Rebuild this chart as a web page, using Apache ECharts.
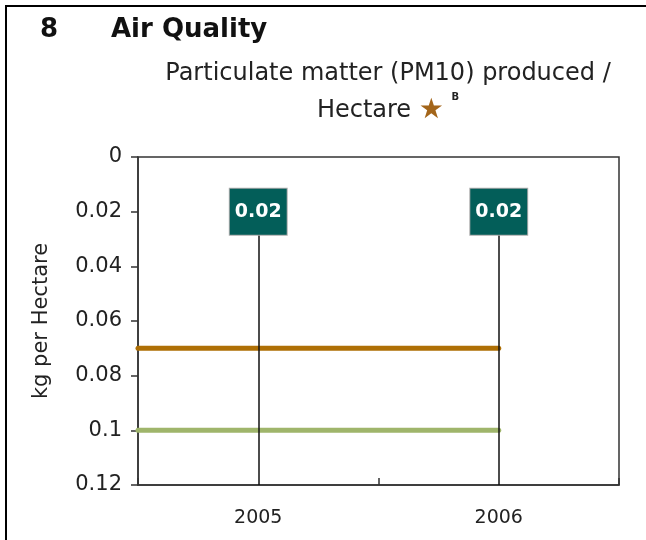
<!DOCTYPE html>
<html>
<head>
<meta charset="utf-8">
<script src="https://cdn.jsdelivr.net/npm/echarts@6/dist/echarts.min.js"></script>
<style>
  html, body { margin: 0; padding: 0; background: #fff; }
  #chart { position: absolute; left: 0; top: 0; width: 646px; height: 540px; }
  #frame { position: absolute; left: 5px; top: 5px; width: 641px; height: 535px;
           border-top: 2px solid #000; border-left: 2px solid #000; pointer-events: none; }
</style>
</head>
<body>
<div id="chart"></div>
<div id="frame"></div>
<script>
// data
var years = ['2005', '2006'];
var pmValues = [0.02, 0.02];
var targetUpper = 0.07;   // brown line
var targetLower = 0.1;    // green line
var yTicks = [0, 0.02, 0.04, 0.06, 0.08, 0.1, 0.12];

var yMin = yTicks[0];
var yMax = yTicks[yTicks.length - 1];
var lastIdx = years.length - 1;
var xStart = -0.5; // left edge of the category band area

var font = 'DejaVu Sans';

var dropLines = years.map(function (y, i) {
  return [{ coord: [i, pmValues[i]] }, { coord: [i, yMax] }];
});

var myChart = echarts.init(document.getElementById('chart'));

var option = {
  animation: false,
  textStyle: { fontFamily: font },
  title: [
    {
      text: '8',
      left: 35,
      top: 12,
      textStyle: { fontFamily: font, fontSize: 26, fontWeight: 'bold', color: '#111' }
    },
    {
      text: 'Air Quality',
      left: 106,
      top: 12,
      textStyle: { fontFamily: font, fontSize: 26, fontWeight: 'bold', color: '#111' }
    },
    {
      text: 'Particulate matter (PM10) produced /\n{h|Hectare} {s|★} {b|B}',
      left: 383,
      top: 50,
      textAlign: 'center',
      textStyle: {
        fontFamily: font,
        fontSize: 24,
        fontWeight: 'normal',
        color: '#222',
        lineHeight: 37,
        rich: {
          h: { fontFamily: font, fontSize: 24, color: '#222', lineHeight: 37 },
          s: { fontFamily: font, fontSize: 28, color: '#A3651A', lineHeight: 37 },
          b: { fontFamily: font, fontSize: 10, fontWeight: 'bold', color: '#222', verticalAlign: 'top', padding: [0, 0, 14, 0] }
        }
      }
    }
  ],
  grid: {
    left: 138,
    right: 27,
    top: 157,
    bottom: 55,
    show: true,
    borderColor: '#333',
    borderWidth: 1.5,
    backgroundColor: '#fff'
  },
  xAxis: [
    {
      type: 'category',
      data: years,
      position: 'bottom',
      boundaryGap: true,
      axisLine: { onZero: false, lineStyle: { color: '#333', width: 1.5 } },
      axisTick: { show: true, inside: true, length: 7, lineStyle: { color: '#333', width: 1.5 } },
      axisLabel: { color: '#222', fontFamily: font, fontSize: 19, margin: 24 },
      splitLine: { show: false }
    },
    {
      type: 'value',
      min: xStart,
      max: lastIdx + 0.5,
      show: false
    }
  ],
  yAxis: {
    type: 'value',
    inverse: true,
    position: 'left',
    min: yMin,
    max: yMax,
    interval: 0.02,
    name: 'kg per Hectare',
    nameLocation: 'middle',
    nameGap: 86,
    nameTextStyle: { color: '#222', fontFamily: font, fontSize: 21 },
    axisLine: { show: true, onZero: false, lineStyle: { color: '#333', width: 1.5 } },
    axisTick: { show: true, length: 7, lineStyle: { color: '#333', width: 1.5 } },
    axisLabel: { color: '#222', fontFamily: font, fontSize: 21, margin: 16 },
    splitLine: { show: false }
  },
  series: [
    {
      name: 'upper target',
      type: 'line',
      xAxisIndex: 1,
      data: [[xStart, targetUpper], [lastIdx, targetUpper]],
      symbol: 'none',
      lineStyle: { color: '#AE6F05', width: 5, cap: 'round' },
      z: 3
    },
    {
      name: 'lower target',
      type: 'line',
      xAxisIndex: 1,
      data: [[xStart, targetLower], [lastIdx, targetLower]],
      symbol: 'none',
      lineStyle: { color: '#9FB56B', width: 5, cap: 'round' },
      z: 3
    },
    {
      name: 'drop lines',
      type: 'line',
      data: [],
      symbol: 'none',
      z: 4,
      markLine: {
        silent: true,
        symbol: 'none',
        label: { show: false },
        lineStyle: { color: '#111', width: 1.5, type: 'solid' },
        data: dropLines
      }
    },
    {
      name: 'PM10',
      type: 'scatter',
      data: pmValues,
      symbolSize: 0,
      itemStyle: { color: '#035E59', opacity: 1 },
      z: 10,
      label: {
        show: true,
        position: 'inside',
        formatter: function (p) { return p.value.toFixed(2); },
        color: '#fff',
        fontFamily: font,
        fontSize: 19,
        fontWeight: 'bold',
        backgroundColor: '#035E59',
        borderColor: '#aaa',
        borderWidth: 1,
        padding: [14, 5, 13, 5]
      }
    }
  ]
};

myChart.setOption(option);
</script>
</body>
</html>
